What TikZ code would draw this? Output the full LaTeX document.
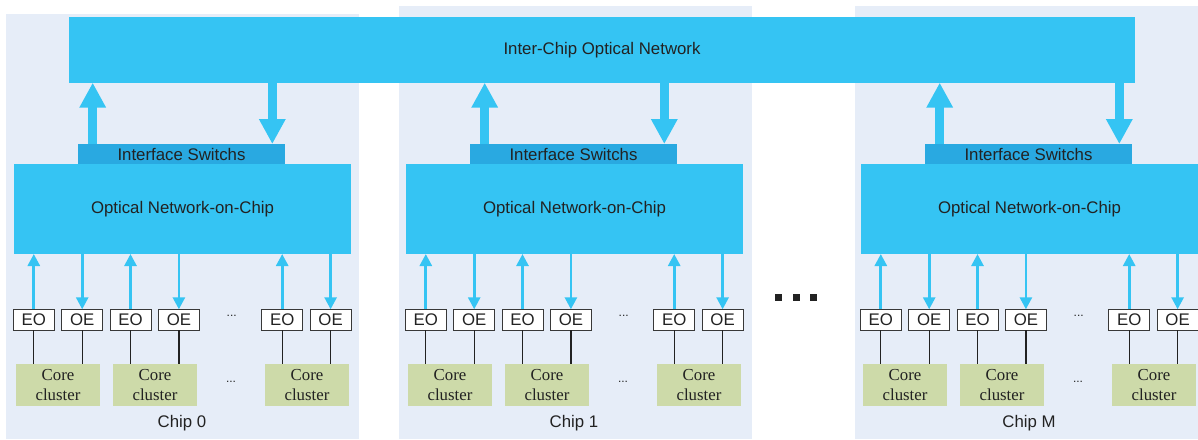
\documentclass[tikz,border=0pt]{standalone}
\usepackage{fontspec}
\setmainfont{Liberation Sans}
\newfontfamily\ccfont{Liberation Serif}
\usetikzlibrary{arrows.meta,calc}
\definecolor{chipbg}{RGB}{230,237,248}
\definecolor{optic}{RGB}{53,196,243}
\definecolor{switchc}{RGB}{41,169,225}
\definecolor{corec}{RGB}{205,218,169}
\definecolor{inkc}{RGB}{34,34,34}
\begin{document}
\begin{tikzpicture}[x=1pt,y=-1pt,
  font=\fontsize{16.8}{20}\selectfont, text=inkc,
  box/.style={inner sep=0pt, outer sep=0pt, anchor=north west},
  chipbox/.style={box, fill=chipbg},
  netbox/.style={box, fill=optic},
  switchbox/.style={box, fill=switchc},
  convbox/.style={box, fill=white, draw=inkc!90, line width=1pt,
    minimum width=41pt, minimum height=21pt},
  corebox/.style={box, fill=corec, minimum width=84pt, minimum height=41.7pt,
    align=center, font=\ccfont\fontsize{16.8}{20}\selectfont},
  bigarrow/.style={draw=optic, line width=9pt,
    -{Triangle[width=25pt,length=25pt]}, fill=optic},
  smallarrow/.style={draw=optic, line width=2.7pt,
    -{Triangle[width=12pt,length=12pt]}, fill=optic},
  wire/.style={draw=inkc, line width=1.3pt},
  gap/.style={inner sep=0pt, font=\fontsize{12}{12}\selectfont}]
\useasboundingbox (0,0) rectangle (1198,439);

% chip backgrounds
\node[chipbox, minimum width=352.7pt, minimum height=425pt] (bg0) at (6,14) {};
\node[chipbox, minimum width=352.7pt, minimum height=433pt] (bg1) at (399,6) {};
\node[chipbox, minimum width=343pt, minimum height=433pt] (bgM) at (855,6) {};

% shared inter-chip network
\node[netbox, minimum width=1066pt, minimum height=65.7pt] (net) at (69,17)
  {Inter-Chip Optical Network};

\foreach \c/\dx in {0/0, 1/392, M/847} {
  \node[switchbox, minimum width=207pt, minimum height=20pt] (is\c) at (78+\dx,144)
    {Interface Switchs};
  \node[netbox, minimum width=337pt, minimum height=90pt] (onoc\c) at (14+\dx,164)
    {Optical Network-on-Chip};
  \draw[bigarrow] ([xshift=14.7pt]is\c.north west) -- ([xshift=14.7pt]is\c.north west |- net.south);
  \draw[bigarrow] ([xshift=-12.7pt]is\c.north east |- net.south) -- ([xshift=-12.7pt]is\c.north east);

  \foreach \k/\ex/\cx in {1/13.3/16, 2/110/113, 3/261.7/265} {
    \node[convbox] (eo\c\k) at (\ex+\dx,309.3) {EO};
    \node[convbox] (oe\c\k) at (\ex+48.4+\dx,309.3) {OE};
    \node[corebox] (cc\c\k) at (\cx+\dx,364) {Core\\cluster};
    \draw[smallarrow] (eo\c\k.north) -- (eo\c\k.north |- onoc\c.south);
    \draw[smallarrow] (oe\c\k.north |- onoc\c.south) -- (oe\c\k.north);
    \draw[wire] (eo\c\k.south) -- (eo\c\k.south |- cc\c\k.north);
    \draw[wire] (oe\c\k.south) -- (oe\c\k.south |- cc\c\k.north);
  }
  \node[gap] (gapeo\c) at (231.7+\dx,316) {...};
  \node[gap] (gapcc\c) at (231+\dx,381.7) {...};
  \node (label\c) at (182+\dx,422.7) {Chip \c};
}

% further chips omitted between chip 1 and chip M
\foreach \sx in {775, 792.7, 810}
  \fill[inkc] (\sx,294) rectangle ++(7,7);
\end{tikzpicture}
\end{document}
